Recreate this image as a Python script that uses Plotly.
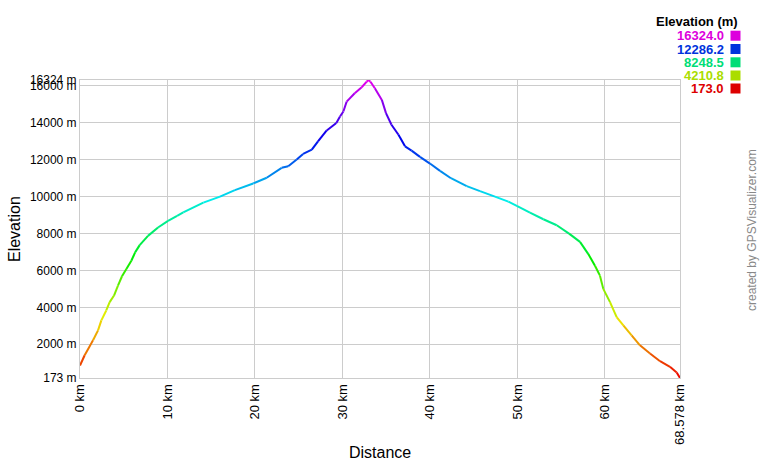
import colorsys
import plotly.graph_objects as go

distance_km = [0.0, 0.53, 1.49, 2.06, 2.44, 3.00, 3.39, 3.89, 4.34, 4.80, 5.30, 5.87, 6.30, 6.82,
               7.77, 8.92, 10.06, 11.10, 11.80, 14.10, 16.00, 17.70, 19.80, 21.34, 23.05, 23.80,
               24.77, 25.50, 26.50, 27.20, 28.20, 29.30, 29.72, 30.10, 30.48, 31.40, 32.20, 32.77,
               32.95, 33.20, 33.70, 34.50, 34.97, 35.60, 36.40, 37.15, 37.90, 38.86, 40.00, 41.15,
               42.40, 44.20, 45.72, 47.43, 48.96, 49.98, 51.43, 52.96, 54.49, 55.90, 57.15, 58.10,
               58.86, 59.43, 59.81, 60.58, 61.34, 62.10, 63.05, 64.00, 65.15, 66.30, 67.43, 68.20,
               68.578]
elevation_m = [850, 1407, 2216, 2755, 3294, 3833, 4286, 4641, 5180, 5687, 6081, 6528, 6981, 7374,
               7876, 8329, 8685, 8954, 9150, 9676, 10000, 10356, 10717, 11024, 11563, 11650,
               12011, 12318, 12550, 12997, 13590, 13989, 14345, 14615, 15154, 15606, 15930, 16232,
               16324, 16232, 15876, 15245, 14528, 13897, 13358, 12728, 12496, 12156, 11795, 11400,
               11000, 10571, 10302, 10000, 9730, 9493, 9137, 8776, 8453, 8000, 7550, 6890,
               6259, 5720, 5003, 4286, 3477, 3024, 2485, 1946, 1499, 1084, 782, 474,
               173]

y_min, y_max = 173.0, 16324.0
x_max = 68.578
y_tick_vals = [173, 2000, 4000, 6000, 8000, 10000, 12000, 14000, 16000, 16324]
y_tick_text = ["173 m", "2000 m", "4000 m", "6000 m", "8000 m", "10000 m", "12000 m",
               "14000 m", "16000 m", "16324 m"]
x_tick_vals = [0, 10, 20, 30, 40, 50, 60, 68.578]
x_tick_text = ["0 km", "10 km", "20 km", "30 km", "40 km", "50 km", "60 km", "68.578 km"]
legend_values = [16324.0, 12286.2, 8248.5, 4210.8, 173.0]
legend_colors = ["#dd00dd", "#0033dd", "#00dd77", "#aadd00", "#dd0000"]


def elev_color(v, val=0.93):
    f = (v - y_min) / (y_max - y_min)
    f = min(max(f, 0.0), 1.0)
    r, g, b = colorsys.hsv_to_rgb(f * 300.0 / 360.0, 1.0, val)
    return "rgb(%d,%d,%d)" % (round(r * 255), round(g * 255), round(b * 255))


fig = go.Figure()
for i in range(len(distance_km) - 1):
    mid = (elevation_m[i] + elevation_m[i + 1]) / 2.0
    fig.add_trace(go.Scatter(
        x=distance_km[i:i + 2], y=elevation_m[i:i + 2], mode="lines",
        line=dict(color=elev_color(mid), width=2),
        hoverinfo="skip", showlegend=False))

FONT = "Liberation Sans, Arial, sans-serif"
L, R, T, B = 80, 80, 80, 82
W, H = 760, 460
pw, ph = W - L - R, H - T - B


def px(xp):
    return (xp - L) / pw


def py(yp):
    return (H - B - yp) / ph


annotations = [
    dict(text="Distance", x=px(380), y=py(452), xref="paper", yref="paper",
         showarrow=False, font=dict(family=FONT, size=16, color="#000"),
         xanchor="center", yanchor="middle"),
    dict(text="Elevation", x=px(14), y=py(229), xref="paper", yref="paper",
         showarrow=False, textangle=-90, font=dict(family=FONT, size=16, color="#000"),
         xanchor="center", yanchor="middle"),
    dict(text="created by GPSVisualizer.com", x=px(752), y=py(230), xref="paper", yref="paper",
         showarrow=False, textangle=-90, font=dict(family=FONT, size=12, color="#888"),
         xanchor="center", yanchor="middle"),
    dict(text="<b>Elevation (m)</b>", x=px(740), y=py(21.7), xref="paper", yref="paper",
         showarrow=False, font=dict(family=FONT, size=13, color="#000"),
         xanchor="right", yanchor="middle"),
]
shapes = []
row_y = [35.7, 49.0, 62.3, 75.5, 88.5]
for v, c, yc in zip(legend_values, legend_colors, row_y):
    annotations.append(dict(text="<b>%.1f</b>" % v, x=px(726), y=py(yc), xref="paper", yref="paper",
                            showarrow=False, font=dict(family=FONT, size=13, color=c),
                            xanchor="right", yanchor="middle"))
    shapes.append(dict(type="rect", xref="paper", yref="paper",
                       x0=px(730.5), x1=px(740.5), y0=py(yc - 5), y1=py(yc + 5),
                       fillcolor=c, line=dict(width=0)))

fig.update_layout(
    width=W, height=H,
    margin=dict(l=L, r=R, t=T, b=B, pad=0),
    paper_bgcolor="white", plot_bgcolor="white",
    font=dict(family=FONT, size=12, color="#000"),
    annotations=annotations, shapes=shapes,
    xaxis=dict(range=[0, x_max], tickvals=x_tick_vals, ticktext=x_tick_text, tickangle=-90,
               showgrid=True, gridcolor="#cccccc", gridwidth=1, zeroline=False,
               showline=True, linecolor="#cccccc", linewidth=1, mirror=True,
               ticks="", tickfont=dict(family=FONT, size=13, color="#000")),
    yaxis=dict(range=[y_min, y_max], tickvals=y_tick_vals, ticktext=y_tick_text,
               showgrid=True, gridcolor="#cccccc", gridwidth=1, zeroline=False,
               showline=True, linecolor="#cccccc", linewidth=1, mirror=True,
               ticks="", tickfont=dict(family=FONT, size=12, color="#000")),
)
fig.write_html("out.html", config={"displayModeBar": False},
               post_script="document.body.style.margin='0';document.body.style.overflow='hidden';")
